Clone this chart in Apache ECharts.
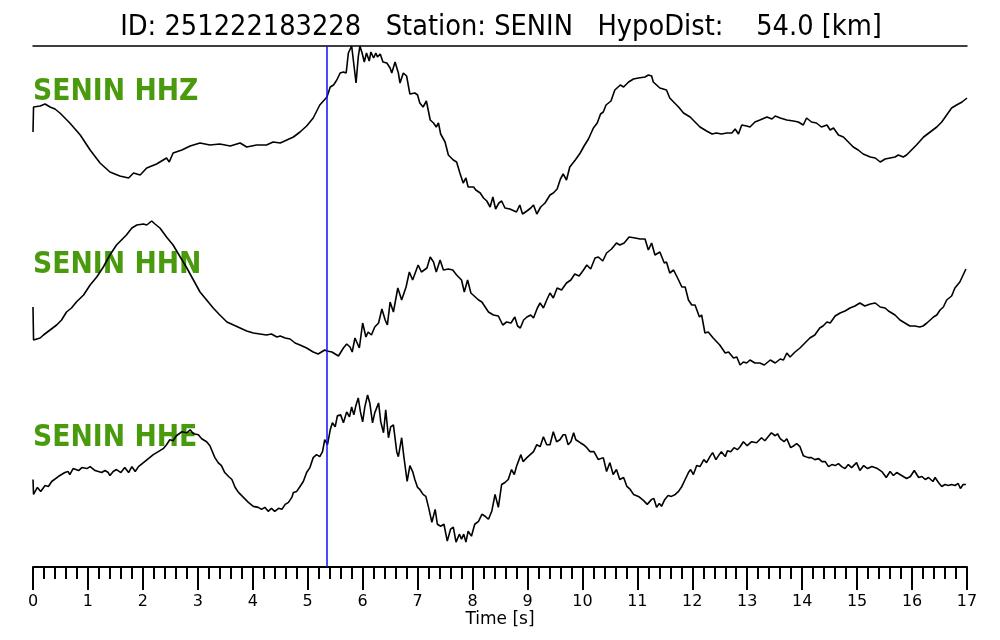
<!DOCTYPE html>
<html>
<head>
<meta charset="utf-8">
<title>SENIN waveforms</title>
<script src="https://cdn.jsdelivr.net/npm/echarts@6.0.0/dist/echarts.min.js"></script>
<style>
  html, body { margin: 0; padding: 0; background: #fff; }
  #chart { width: 1000px; height: 640px; }
</style>
</head>
<body>
<div id="chart"></div>
<script>
// event / station info
const eventId = '251222183228';
const station = 'SENIN';
const hypoDist = 54.0;
const channels = ['HHZ', 'HHN', 'HHE'];
const pickTime = 5.35; // blue pick marker (s)

// traces as [time (s), amplitude]
const hhz = [[0,0],[0.01,25],[0.13,26],[0.22,28],[0.31,25],[0.4,23],[0.49,19],[0.67,9],[0.86,-3],[1.04,-18],[1.22,-31],[1.4,-40],[1.58,-44],[1.74,-46],[1.83,-41],[1.95,-43],[2.07,-36],[2.25,-32],[2.43,-26],[2.48,-30],[2.55,-21],[2.71,-18],[2.86,-14],[3.04,-11],[3.22,-13],[3.4,-12],[3.59,-14],[3.77,-11],[3.89,-15],[4.07,-13],[4.25,-13],[4.37,-10],[4.5,-11],[4.62,-8],[4.74,-5],[4.86,0],[4.98,6],[5.1,14],[5.22,27],[5.35,35],[5.41,45],[5.47,47],[5.53,52],[5.59,59],[5.65,60],[5.7,59],[5.74,79],[5.8,86],[5.83,84],[5.88,49],[5.92,75],[5.95,86],[5.99,79],[6.03,70],[6.07,79],[6.12,71],[6.15,80],[6.2,74],[6.24,79],[6.27,75],[6.32,78],[6.37,70],[6.44,69],[6.5,64],[6.53,59],[6.59,70],[6.65,59],[6.68,49],[6.74,59],[6.8,56],[6.86,38],[6.95,39],[7.0,37],[7.04,29],[7.1,25],[7.16,31],[7.23,12],[7.29,9],[7.34,5],[7.38,9],[7.42,-2],[7.5,-10],[7.56,-23],[7.65,-28],[7.71,-30],[7.77,-41],[7.83,-51],[7.88,-46],[7.92,-55],[8.02,-55],[8.06,-58],[8.14,-61],[8.2,-66],[8.26,-69],[8.32,-75],[8.37,-65],[8.42,-77],[8.48,-71],[8.53,-69],[8.59,-76],[8.68,-77],[8.8,-80],[8.86,-73],[8.91,-82],[8.99,-79],[9.06,-76],[9.11,-73],[9.17,-82],[9.24,-75],[9.32,-71],[9.41,-63],[9.47,-61],[9.54,-57],[9.6,-47],[9.65,-42],[9.71,-48],[9.77,-35],[9.87,-28],[9.96,-21],[10.03,-14],[10.11,-7],[10.2,4],[10.27,9],[10.33,18],[10.38,20],[10.43,27],[10.52,31],[10.59,42],[10.69,47],[10.75,45],[10.84,50],[10.93,53],[11.02,54],[11.14,55],[11.2,57],[11.26,56],[11.29,50],[11.41,44],[11.53,42],[11.59,34],[11.66,30],[11.75,25],[11.84,19],[11.96,15],[12.05,10],[12.14,5],[12.26,1],[12.36,-2],[12.44,-1],[12.53,-2],[12.63,-1],[12.72,-1],[12.78,3],[12.84,-2],[12.9,7],[12.99,6],[13.05,5],[13.14,10],[13.23,12],[13.36,15],[13.45,13],[13.51,16],[13.6,14],[13.72,12],[13.84,11],[13.93,10],[14.02,7],[14.08,14],[14.17,10],[14.26,9],[14.35,5],[14.45,7],[14.51,2],[14.57,4],[14.66,-3],[14.75,-5],[14.84,-10],[14.93,-15],[15.02,-18],[15.11,-22],[15.24,-25],[15.33,-26],[15.42,-30],[15.51,-27],[15.6,-26],[15.69,-25],[15.75,-23],[15.84,-25],[15.9,-23],[15.99,-18],[16.08,-13],[16.21,-5],[16.33,0],[16.45,5],[16.54,10],[16.63,17],[16.72,24],[16.81,27],[16.91,30],[17.0,34]];

const hhn = [[0,-2],[0.01,-35],[0.07,-34],[0.13,-33],[0.19,-30],[0.31,-25],[0.43,-20],[0.52,-15],[0.61,-7],[0.7,-3],[0.79,3],[0.92,10],[1.04,20],[1.16,28],[1.28,38],[1.4,50],[1.52,60],[1.61,65],[1.7,70],[1.8,77],[1.89,80],[2.01,81],[2.07,80],[2.16,84],[2.22,81],[2.31,77],[2.43,68],[2.55,60],[2.68,48],[2.8,37],[2.92,25],[3.04,13],[3.16,5],[3.28,-3],[3.4,-10],[3.53,-17],[3.65,-20],[3.77,-23],[3.89,-26],[4.01,-28],[4.13,-29],[4.25,-30],[4.34,-29],[4.44,-32],[4.5,-31],[4.59,-33],[4.68,-34],[4.77,-38],[4.86,-40],[4.98,-43],[5.1,-47],[5.19,-49],[5.25,-47],[5.31,-45],[5.35,-46],[5.44,-47],[5.56,-51],[5.65,-43],[5.71,-39],[5.77,-42],[5.81,-47],[5.86,-33],[5.9,-38],[5.94,-43],[6.0,-18],[6.06,-32],[6.1,-27],[6.16,-30],[6.22,-22],[6.29,-18],[6.35,-4],[6.41,-15],[6.45,-20],[6.5,3],[6.56,-7],[6.64,17],[6.71,5],[6.79,18],[6.85,33],[6.91,25],[7.01,40],[7.07,33],[7.17,37],[7.23,48],[7.29,43],[7.34,33],[7.41,45],[7.47,35],[7.56,36],[7.64,35],[7.71,30],[7.8,25],[7.85,13],[7.91,25],[7.97,12],[8.05,8],[8.11,5],[8.17,3],[8.23,-2],[8.29,-7],[8.38,-10],[8.47,-11],[8.55,-20],[8.62,-17],[8.7,-18],[8.77,-12],[8.82,-21],[8.87,-23],[8.93,-15],[8.99,-12],[9.06,-10],[9.11,-13],[9.18,-3],[9.23,2],[9.29,-3],[9.35,5],[9.41,12],[9.47,7],[9.54,17],[9.62,15],[9.71,22],[9.79,25],[9.86,31],[9.94,29],[10.02,35],[10.08,40],[10.15,36],[10.23,47],[10.29,48],[10.37,44],[10.44,52],[10.53,56],[10.62,62],[10.68,60],[10.76,62],[10.85,68],[10.96,67],[11.05,66],[11.14,66],[11.2,55],[11.26,62],[11.32,50],[11.41,53],[11.49,42],[11.53,43],[11.59,32],[11.66,35],[11.75,25],[11.81,18],[11.87,18],[11.93,5],[11.99,0],[12.05,0],[12.13,-12],[12.17,-10],[12.23,-28],[12.29,-27],[12.38,-33],[12.5,-40],[12.6,-48],[12.66,-47],[12.75,-53],[12.81,-52],[12.87,-60],[12.93,-57],[12.99,-58],[13.05,-55],[13.14,-58],[13.23,-58],[13.31,-60],[13.42,-55],[13.51,-58],[13.6,-54],[13.66,-55],[13.72,-48],[13.78,-52],[13.87,-47],[13.96,-43],[14.05,-38],[14.14,-33],[14.23,-30],[14.32,-23],[14.38,-21],[14.45,-17],[14.51,-18],[14.6,-11],[14.69,-8],[14.78,-6],[14.87,-3],[14.96,-1],[15.05,2],[15.14,-1],[15.24,1],[15.33,2],[15.42,-2],[15.51,-3],[15.57,-6],[15.63,-8],[15.69,-10],[15.78,-15],[15.87,-18],[15.96,-21],[16.05,-21],[16.14,-22],[16.2,-21],[16.27,-18],[16.33,-15],[16.39,-12],[16.45,-10],[16.51,-5],[16.57,-2],[16.63,5],[16.72,9],[16.78,17],[16.87,23],[16.98,36]];

const hhe = [[0,0],[0.01,-15],[0.08,-8],[0.14,-12],[0.22,-6],[0.28,-7],[0.34,-2],[0.46,3],[0.58,7],[0.64,8],[0.67,5],[0.73,11],[0.83,9],[0.89,12],[0.98,11],[1.04,13],[1.13,9],[1.19,8],[1.25,7],[1.31,9],[1.37,7],[1.4,4],[1.46,8],[1.52,10],[1.6,7],[1.67,12],[1.74,7],[1.8,13],[1.86,8],[1.92,13],[2.01,17],[2.1,21],[2.19,25],[2.28,28],[2.37,31],[2.43,35],[2.49,40],[2.55,39],[2.61,44],[2.71,48],[2.8,47],[2.86,50],[2.92,46],[3.01,45],[3.07,41],[3.16,38],[3.22,34],[3.31,22],[3.37,17],[3.43,14],[3.49,7],[3.56,3],[3.62,0],[3.68,-8],[3.74,-13],[3.83,-18],[3.92,-23],[4.01,-27],[4.1,-28],[4.16,-30],[4.22,-28],[4.28,-32],[4.34,-29],[4.4,-32],[4.47,-29],[4.53,-30],[4.59,-25],[4.65,-23],[4.71,-18],[4.74,-13],[4.8,-12],[4.86,-7],[4.92,-2],[4.98,7],[5.04,12],[5.1,22],[5.16,25],[5.22,23],[5.27,28],[5.31,40],[5.36,35],[5.41,50],[5.45,57],[5.5,53],[5.54,64],[5.6,65],[5.65,57],[5.71,68],[5.76,63],[5.8,73],[5.84,65],[5.88,75],[5.92,82],[5.96,68],[6.0,58],[6.04,73],[6.09,85],[6.13,77],[6.18,57],[6.22,67],[6.29,77],[6.33,58],[6.38,47],[6.42,70],[6.47,42],[6.51,53],[6.56,55],[6.62,28],[6.65,23],[6.71,42],[6.75,23],[6.81,-2],[6.86,14],[6.91,8],[6.95,0],[7.0,-8],[7.04,-10],[7.1,-15],[7.15,-17],[7.2,-28],[7.26,-43],[7.32,-30],[7.36,-45],[7.42,-47],[7.48,-45],[7.54,-62],[7.6,-50],[7.65,-48],[7.7,-63],[7.76,-55],[7.8,-60],[7.84,-55],[7.88,-63],[7.92,-52],[7.98,-57],[8.04,-45],[8.11,-42],[8.17,-35],[8.23,-37],[8.29,-40],[8.35,-32],[8.41,-15],[8.47,-28],[8.53,-5],[8.59,-3],[8.65,0],[8.71,10],[8.76,5],[8.8,13],[8.88,25],[8.92,18],[8.99,22],[9.05,25],[9.11,28],[9.17,35],[9.23,33],[9.29,43],[9.35,35],[9.41,35],[9.47,48],[9.53,38],[9.59,40],[9.65,45],[9.69,45],[9.74,35],[9.79,38],[9.84,47],[9.88,40],[9.96,37],[10.02,35],[10.08,32],[10.14,28],[10.21,28],[10.29,20],[10.38,22],[10.44,8],[10.5,17],[10.56,5],[10.62,10],[10.68,0],[10.75,2],[10.81,-7],[10.87,-10],[10.93,-15],[11.02,-17],[11.11,-21],[11.18,-25],[11.26,-20],[11.3,-19],[11.35,-28],[11.4,-24],[11.44,-27],[11.5,-20],[11.56,-16],[11.62,-17],[11.69,-15],[11.75,-12],[11.81,-7],[11.87,0],[11.93,7],[11.97,10],[12.02,5],[12.08,14],[12.14,13],[12.21,20],[12.26,17],[12.32,23],[12.37,27],[12.43,20],[12.49,25],[12.53,28],[12.6,23],[12.64,29],[12.7,28],[12.76,32],[12.82,30],[12.87,33],[12.93,38],[13.0,34],[13.08,38],[13.17,37],[13.26,42],[13.32,39],[13.38,43],[13.44,47],[13.51,44],[13.55,46],[13.6,41],[13.67,38],[13.72,41],[13.79,32],[13.85,34],[13.9,36],[13.96,33],[14.02,24],[14.11,22],[14.17,22],[14.23,20],[14.3,21],[14.36,18],[14.42,18],[14.48,13],[14.54,15],[14.6,14],[14.66,16],[14.72,13],[14.78,11],[14.84,15],[14.9,12],[14.99,17],[15.05,9],[15.12,14],[15.19,11],[15.27,13],[15.37,11],[15.45,8],[15.53,2],[15.6,8],[15.66,4],[15.72,7],[15.81,4],[15.9,1],[15.97,3],[16.04,9],[16.12,2],[16.18,3],[16.24,0],[16.3,2],[16.38,-2],[16.42,2],[16.48,-3],[16.54,-7],[16.6,-5],[16.66,-6],[16.72,-5],[16.78,-6],[16.84,-4],[16.88,-9],[16.93,-5],[16.98,-5]];

const traces = [hhz, hhn, hhe];

const chart = echarts.init(document.getElementById('chart'));

// one panel per channel, stacked
const panels = [
  { top: 46, height: 172, range: 86, labelY: 92 },
  { top: 218, height: 174, range: 87, labelY: 265 },
  { top: 392, height: 175, range: 88, labelY: 438 }
];

const black = '#000';

const option = {
  animation: false,
  backgroundColor: '#fff',
  textStyle: { fontFamily: 'DejaVu Sans' },
  grid: panels.map(p => ({ left: 33, right: 33, top: p.top, height: p.height })),
  xAxis: panels.map((p, i) => {
    const ax = {
      type: 'value', gridIndex: i, min: 0, max: 17, interval: 1,
      splitLine: { show: false }
    };
    if (i === 0) {
      return Object.assign(ax, {
        position: 'top',
        axisLine: { show: true, onZero: false, lineStyle: { color: black, width: 1.5 } },
        axisTick: { show: false },
        axisLabel: { show: false }
      });
    }
    if (i === 1) return Object.assign(ax, { show: false });
    return Object.assign(ax, {
      position: 'bottom',
      name: 'Time [s]',
      nameLocation: 'middle',
      nameGap: 42,
      nameTextStyle: { color: black, fontSize: 17, fontFamily: 'DejaVu Sans' },
      axisLine: { show: true, onZero: false, lineStyle: { color: black, width: 2 } },
      axisTick: { show: true, length: 23, lineStyle: { color: black, width: 2 } },
      minorTick: { show: true, splitNumber: 5, length: 12, lineStyle: { color: black, width: 2 } },
      axisLabel: { color: black, fontSize: 16, margin: 27, fontFamily: 'DejaVu Sans' }
    });
  }),
  yAxis: panels.map((p, i) => ({
    type: 'value', gridIndex: i, min: -p.range, max: p.range, show: false
  })),
  series: traces.map((d, i) => ({
    name: station + ' ' + channels[i],
    type: 'line',
    xAxisIndex: i,
    yAxisIndex: i,
    data: d,
    symbol: 'none',
    clip: false,
    z: 3,
    lineStyle: { color: black, width: 1.6 },
    emphasis: { disabled: true },
    markLine: {
      silent: true,
      symbol: ['none', 'none'],
      label: { show: false },
      lineStyle: { color: '#1010ff', width: 1.5, type: 'solid' },
      data: [{ xAxis: pickTime }]
    }
  })),
  graphic: [
    {
      type: 'text', x: 501, y: 28, scaleX: 0.92, z: 0,
      style: {
        text: 'ID: ' + eventId + '   Station: ' + station + '   HypoDist:    ' + hypoDist.toFixed(1) + ' [km]',
        font: '28px "DejaVu Sans"', fill: black,
        textAlign: 'center', textVerticalAlign: 'middle', align: 'center', verticalAlign: 'middle'
      }
    }
  ].concat(panels.map((p, i) => ({
    type: 'text', x: 33, y: p.labelY, scaleX: 0.89, z: 0,
    style: {
      text: station + ' ' + channels[i],
      font: 'bold 30px "DejaVu Sans"', fill: '#4a9a0e',
      textAlign: 'left', textVerticalAlign: 'middle', align: 'left', verticalAlign: 'middle'
    }
  })))
};

chart.setOption(option);
</script>
</body>
</html>
